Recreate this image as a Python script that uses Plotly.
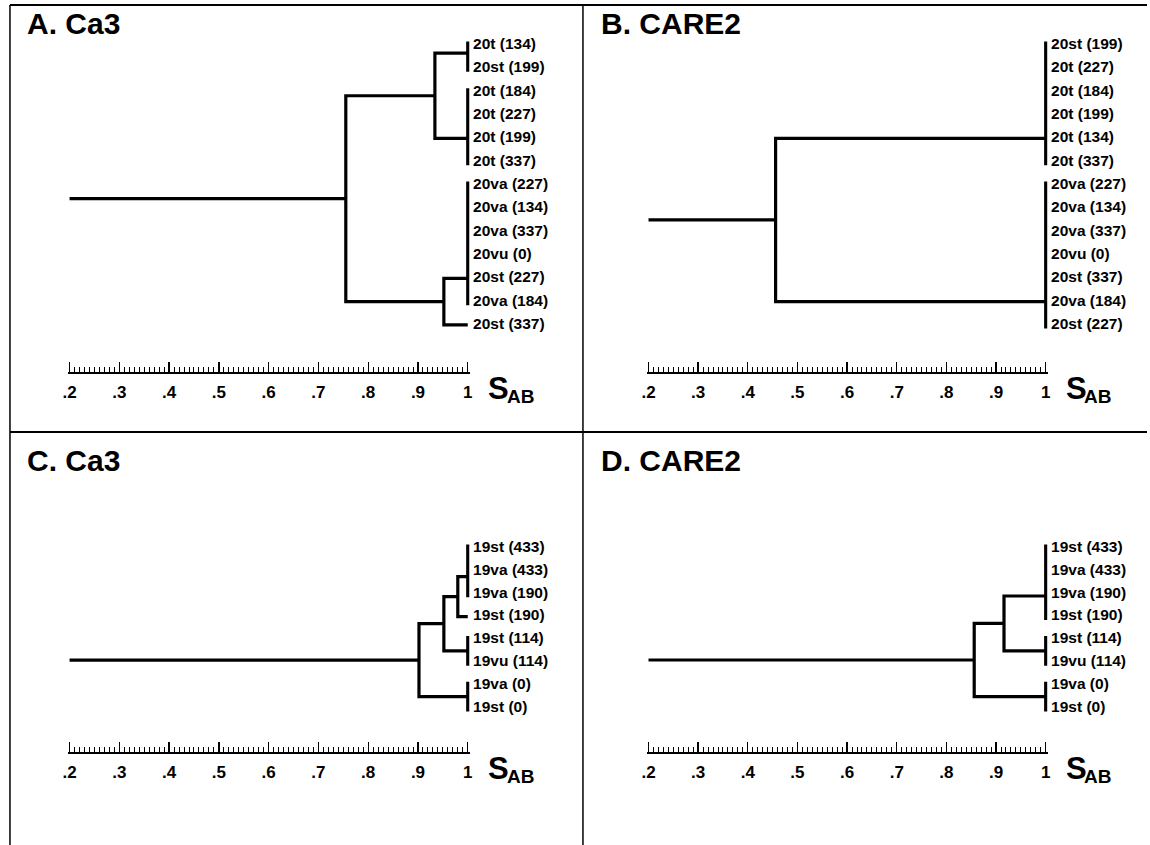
import plotly.graph_objects as go

W, H = 1150, 845
FONT = "Liberation Sans"

# ---------------- data ----------------
# leaves top -> bottom; groups are leaf clusters joined at S_AB = 1;
# attach = row at which each group's branch meets it;
# tree = (S_AB of node, [children]) where an int child is a group index
A_title = "A. Ca3"
A_leaves = ["20t (134)", "20st (199)", "20t (184)", "20t (227)", "20t (199)", "20t (337)",
            "20va (227)", "20va (134)", "20va (337)", "20vu (0)", "20st (227)", "20va (184)",
            "20st (337)"]
A_groups = [[0, 1], [2, 3, 4, 5], [6, 7, 8, 9, 10, 11], [12]]
A_attach = [0.35, 4.0, 10.0, 12.0]
A_tree = (0.755, [(0.934, [0, 1]), (0.952, [2, 3])])

B_title = "B. CARE2"
B_leaves = ["20st (199)", "20t (227)", "20t (184)", "20t (199)", "20t (134)", "20t (337)",
            "20va (227)", "20va (134)", "20va (337)", "20vu (0)", "20st (337)", "20va (184)",
            "20st (227)"]
B_groups = [[0, 1, 2, 3, 4, 5], [6, 7, 8, 9, 10, 11, 12]]
B_attach = [4.0, 11.0]
B_tree = (0.456, [0, 1])

C_title = "C. Ca3"
C_leaves = ["19st (433)", "19va (433)", "19va (190)", "19st (190)", "19st (114)", "19vu (114)",
            "19va (0)", "19st (0)"]
C_groups = [[0, 1, 2], [3], [4, 5], [6, 7]]
C_attach = [1.25, 3.0, 4.5, 6.5]
C_tree = (0.902, [(0.952, [(0.980, [0, 1]), 2]), 3])

D_title = "D. CARE2"
D_leaves = ["19st (433)", "19va (433)", "19va (190)", "19st (190)", "19st (114)", "19vu (114)",
            "19va (0)", "19st (0)"]
D_groups = [[0, 1, 2, 3], [4, 5], [6, 7]]
D_attach = [2.1, 4.5, 6.5]
D_tree = (0.856, [(0.916, [0, 1]), 2])

S_MIN, S_MAX = 0.2, 1.0
SCALE_TICKS = [0.2, 0.3, 0.4, 0.5, 0.6, 0.7, 0.8, 0.9, 1.0]
SCALE_TEXT = [".2", ".3", ".4", ".5", ".6", ".7", ".8", ".9", "1"]

# ---------------- layout (pixels) ----------------
panels = [
    dict(title=A_title, leaves=A_leaves, groups=A_groups, attach=A_attach, tree=A_tree,
         px0=65, px1=466, top=5, bottom=432, row0=45, step=23.33, bar=372, tx=20, ty=23),
    dict(title=B_title, leaves=B_leaves, groups=B_groups, attach=B_attach, tree=B_tree,
         px0=648, px1=1048, top=5, bottom=432, row0=45, step=23.33, bar=372, tx=598, ty=23),
    dict(title=C_title, leaves=C_leaves, groups=C_groups, attach=C_attach, tree=C_tree,
         px0=65, px1=466, top=432, bottom=845, row0=548, step=22.86, bar=752, tx=20, ty=461),
    dict(title=D_title, leaves=D_leaves, groups=D_groups, attach=D_attach, tree=D_tree,
         px0=648, px1=1048, top=432, bottom=845, row0=548, step=22.86, bar=752, tx=598, ty=461),
]

EXT = 0.15  # extension of leaf-group bars beyond end rows


def build(tree, groups, attach):
    xs, ys = [], []

    def path(pts):
        for (a, b) in pts:
            xs.append(a)
            ys.append(b)
        xs.append(None)
        ys.append(None)

    def node(n):
        if isinstance(n, int):
            g = groups[n]
            if len(g) > 1:
                path([(S_MAX, min(g) - EXT), (S_MAX, max(g) + EXT)])
            return S_MAX, attach[n]
        s, kids = n
        pos = sorted([node(k) for k in kids], key=lambda p: p[1])
        first, last = pos[0], pos[-1]
        path([(first[0], first[1]), (s, first[1]), (s, last[1]), (last[0], last[1])])
        for (ks, ky) in pos[1:-1]:
            path([(s, ky), (ks, ky)])
        return s, (first[1] + last[1]) / 2

    s, y = node(tree)
    path([(S_MIN, y), (s, y)])
    return xs, ys


fig = go.Figure()
layout = dict(width=W, height=H, margin=dict(l=0, r=0, t=0, b=0),
              paper_bgcolor="white", plot_bgcolor="rgba(0,0,0,0)", showlegend=False)
annotations = []
shapes = []

for k, p in enumerate(panels, start=1):
    xn = "x" if k == 1 else f"x{k}"
    yn = "y" if k == 1 else f"y{k}"
    scale = (p["px1"] - p["px0"]) / (S_MAX - S_MIN)
    xs, ys = build(p["tree"], p["groups"], p["attach"])
    fig.add_trace(go.Scatter(x=xs, y=ys, mode="lines", xaxis=xn, yaxis=yn,
                             line=dict(color="black", width=3.2), hoverinfo="skip"))
    n = len(p["leaves"])
    fig.add_trace(go.Scatter(x=[S_MAX] * n, y=list(range(n)),
                             text=p["leaves"], mode="markers+text",
                             marker=dict(size=7, color="rgba(0,0,0,0)"),
                             textposition="middle right", xaxis=xn, yaxis=yn, cliponaxis=False,
                             textfont=dict(family=FONT, size=15.5, color="black", weight="bold"),
                             hoverinfo="skip"))

    pad = 2.0
    xdom = [(p["px0"] - pad) / W, (p["px1"] + pad) / W]
    xr = [S_MIN - pad / scale, S_MAX + pad / scale]
    ydom = [1 - p["bottom"] / H, 1 - p["top"] / H]
    yr = [(p["bottom"] - p["row0"]) / p["step"], (p["top"] - p["row0"]) / p["step"]]

    layout["xaxis" if k == 1 else f"xaxis{k}"] = dict(
        domain=xdom, range=xr, anchor="free", position=1 - p["bar"] / H,
        showline=True, linecolor="black", linewidth=1.5,
        ticks="inside", ticklen=10, tickwidth=1.3, tickcolor="black",
        tickmode="array", tickvals=SCALE_TICKS, ticktext=SCALE_TEXT,
        tickfont=dict(family=FONT, size=17, color="black", weight="bold"),
        ticklabelstandoff=4,
        minor=dict(ticks="inside", ticklen=5, tickwidth=1, tickcolor="black",
                   dtick=0.01, tick0=0, showgrid=False),
        showgrid=False, zeroline=False, fixedrange=True)
    layout["yaxis" if k == 1 else f"yaxis{k}"] = dict(
        domain=ydom, range=yr, anchor=xn, visible=False, fixedrange=True,
        showgrid=False, zeroline=False)

    annotations.append(dict(xref="paper", yref="paper", x=p["tx"] / W, y=1 - p["ty"] / H,
                            xanchor="left", yanchor="middle", showarrow=False, text=p["title"],
                            font=dict(family=FONT, size=30, color="black", weight="bold")))
    sx = p["px1"] + 18
    annotations.append(dict(xref="paper", yref="paper", x=sx / W, y=1 - (p["bar"] + 16) / H,
                            xanchor="left", yanchor="middle", showarrow=False, text="S",
                            font=dict(family=FONT, size=31, color="black", weight="bold")))
    annotations.append(dict(xref="paper", yref="paper", x=(sx + 19) / W, y=1 - (p["bar"] + 24) / H,
                            xanchor="left", yanchor="middle", showarrow=False, text="AB",
                            font=dict(family=FONT, size=19, color="black", weight="bold")))

# frame lines
for (x0, y0, x1, y1, w) in [(5, 5, 1150, 5, 2), (5, 5, 5, 845, 1.5), (582, 5, 582, 845, 1.5),
                            (5, 432, 1150, 432, 2)]:
    shapes.append(dict(type="line", xref="paper", yref="paper", x0=x0 / W, x1=x1 / W,
                       y0=1 - y0 / H, y1=1 - y1 / H, line=dict(color="black", width=w)))

layout["annotations"] = annotations
layout["shapes"] = shapes
fig.update_layout(**layout)
fig.write_html("out.html", config={"displayModeBar": False, "staticPlot": True},
               post_script="document.body.style.margin='0';document.body.style.padding='0';"
                           "document.documentElement.style.overflow='hidden';"
                           "document.body.style.overflow='hidden';")
